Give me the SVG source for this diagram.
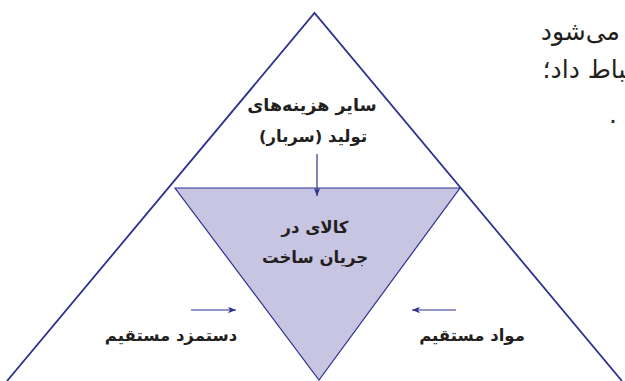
<svg xmlns="http://www.w3.org/2000/svg" width="625" height="381" viewBox="0 0 625 381">
<defs>
<style>
.line{stroke:#2e3192;fill:none;stroke-width:1.8}
.inner{stroke:#2e3192;fill:#c7c5e1;stroke-width:1.2}
.arr{stroke:#2e3192;stroke-width:1.2;fill:none}
.lbl{font-family:"DejaVu Sans",sans-serif;font-weight:bold;font-size:16.5px;fill:#231f20;text-anchor:middle;direction:rtl}
.para{font-family:"DejaVu Sans",sans-serif;font-size:25px;fill:#231f20;direction:rtl;text-anchor:start}
</style>
<marker id="ah" viewBox="0 0 10 8" refX="10" refY="4" markerWidth="8" markerHeight="6.4" markerUnits="userSpaceOnUse" orient="auto">
<path d="M0,0 L10,4 L0,8 L2.5,4 Z" fill="#2e3192"/>
</marker>
</defs>
<rect width="625" height="381" fill="#ffffff"/>
<g id="paragraph">
<text class="para" x="620" y="40">می‌شود</text>
<text class="para" x="626" y="78">&#x200D;باط داد؛</text>
<text class="para" x="617" y="123">.</text>
</g>
<g id="outer">
<polyline class="line" points="7,381 314.5,13 622,381"/>
</g>
<g id="inner">
<polygon class="inner" points="175,188 460,188 319,380"/>
<text class="lbl" x="315" y="233">کالای در</text>
<text class="lbl" x="315" y="263">جریان ساخت</text>
</g>
<g id="overhead">
<text class="lbl" x="312" y="111" style="font-size:17.5px">سایر هزینه‌های</text>
<text class="lbl" x="313" y="142">تولید (سربار)</text>
</g>
<g id="labor">
<text class="lbl" x="171" y="341">دستمزد مستقیم</text>
</g>
<g id="material">
<text class="lbl" x="472" y="341">مواد مستقیم</text>
</g>
<g id="connectors">
<line class="arr" x1="317" y1="154" x2="317" y2="196" marker-end="url(#ah)"/>
<line class="arr" x1="191" y1="310" x2="236" y2="310" marker-end="url(#ah)"/>
<line class="arr" x1="456" y1="310" x2="412" y2="310" marker-end="url(#ah)"/>
</g>
</svg>
